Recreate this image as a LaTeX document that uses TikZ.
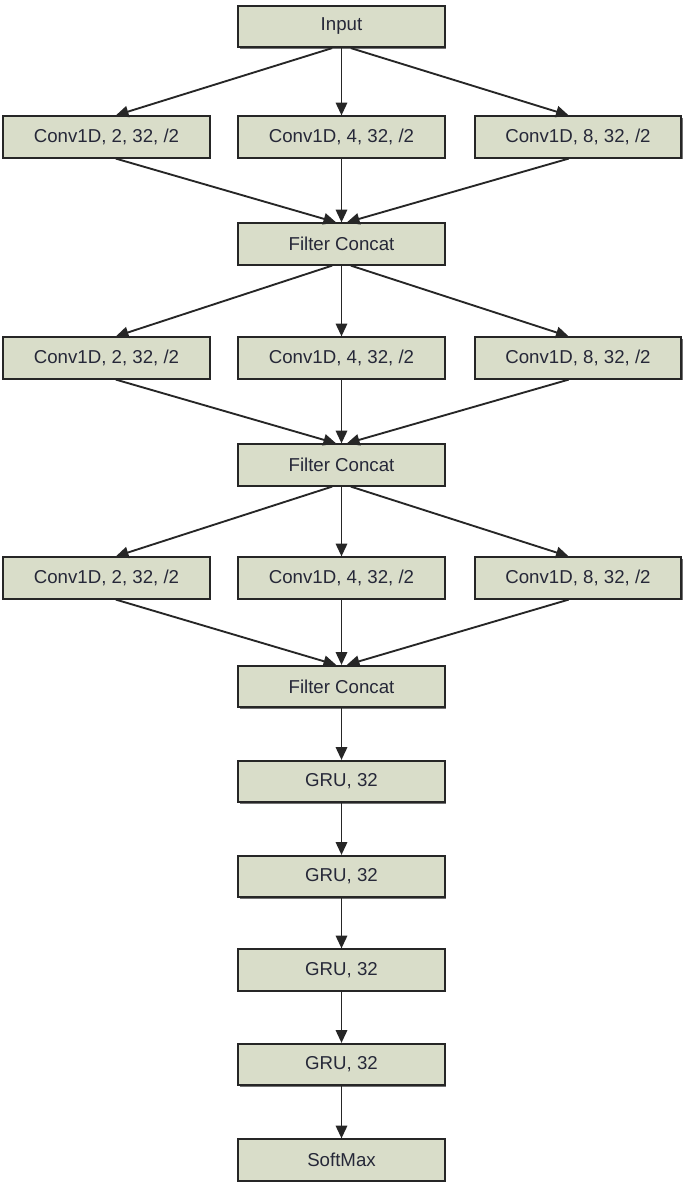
\documentclass[tikz,border=0pt]{standalone}
\usepackage{fontspec}
\setmainfont{Liberation Sans}
\usetikzlibrary{arrows.meta,shadows}
\definecolor{boxfill}{HTML}{D9DDC9}
\definecolor{boxtext}{HTML}{262838}
\begin{document}
\begin{tikzpicture}[x=0.75pt,y=-0.75pt,
  box/.style={draw=black!85, line width=1.4pt, fill=boxfill,
    minimum width=155pt, minimum height=31pt, inner sep=0pt,
    font=\fontsize{14}{16}\selectfont, text=boxtext,
    drop shadow={shadow xshift=1.2pt, shadow yshift=-1.2pt, fill=black!55, opacity=1}},
  arr/.style={line width=1.4pt, draw=black!85, -{Triangle[length=9.5pt,width=8.5pt]}}]
\useasboundingbox (0,0) rectangle (685,1185);
\fill[white] (0,0) rectangle (685,1185);

\node[box] (in) at (341.5,26.5) {Input};

\node[box] (a1) at (106.5,137) {Conv1D, 2, 32, /2};
\node[box] (a2) at (341.5,137) {Conv1D, 4, 32, /2};
\node[box] (a3) at (578,137) {Conv1D, 8, 32, /2};
\node[box] (f1) at (341.5,244) {Filter Concat};

\node[box] (b1) at (106.5,358) {Conv1D, 2, 32, /2};
\node[box] (b2) at (341.5,358) {Conv1D, 4, 32, /2};
\node[box] (b3) at (578,358) {Conv1D, 8, 32, /2};
\node[box] (f2) at (341.5,465) {Filter Concat};

\node[box] (c1) at (106.5,578) {Conv1D, 2, 32, /2};
\node[box] (c2) at (341.5,578) {Conv1D, 4, 32, /2};
\node[box] (c3) at (578,578) {Conv1D, 8, 32, /2};
\node[box] (f3) at (341.5,686.5) {Filter Concat};

\node[box] (g1) at (341.5,781.5) {GRU, 32};
\node[box] (g2) at (341.5,876.5) {GRU, 32};
\node[box] (g3) at (341.5,970) {GRU, 32};
\node[box] (g4) at (341.5,1064.5) {GRU, 32};
\node[box] (sm) at (341.5,1160) {SoftMax};

\draw[arr] ([xshift=-7pt]in.south) -- ([xshift=7pt]a1.north);
\draw[arr] (in.south) -- (a2.north);
\draw[arr] ([xshift=7pt]in.south) -- ([xshift=-7pt]a3.north);
\draw[arr] ([xshift=7pt]a1.south) -- ([xshift=-4pt]f1.north);
\draw[arr] (a2.south) -- (f1.north);
\draw[arr] ([xshift=-7pt]a3.south) -- ([xshift=4pt]f1.north);

\draw[arr] ([xshift=-7pt]f1.south) -- ([xshift=7pt]b1.north);
\draw[arr] (f1.south) -- (b2.north);
\draw[arr] ([xshift=7pt]f1.south) -- ([xshift=-7pt]b3.north);
\draw[arr] ([xshift=7pt]b1.south) -- ([xshift=-4pt]f2.north);
\draw[arr] (b2.south) -- (f2.north);
\draw[arr] ([xshift=-7pt]b3.south) -- ([xshift=4pt]f2.north);

\draw[arr] ([xshift=-7pt]f2.south) -- ([xshift=7pt]c1.north);
\draw[arr] (f2.south) -- (c2.north);
\draw[arr] ([xshift=7pt]f2.south) -- ([xshift=-7pt]c3.north);
\draw[arr] ([xshift=7pt]c1.south) -- ([xshift=-4pt]f3.north);
\draw[arr] (c2.south) -- (f3.north);
\draw[arr] ([xshift=-7pt]c3.south) -- ([xshift=4pt]f3.north);

\draw[arr] (f3) -- (g1);
\draw[arr] (g1) -- (g2);
\draw[arr] (g2) -- (g3);
\draw[arr] (g3) -- (g4);
\draw[arr] (g4) -- (sm);
\end{tikzpicture}
\end{document}
